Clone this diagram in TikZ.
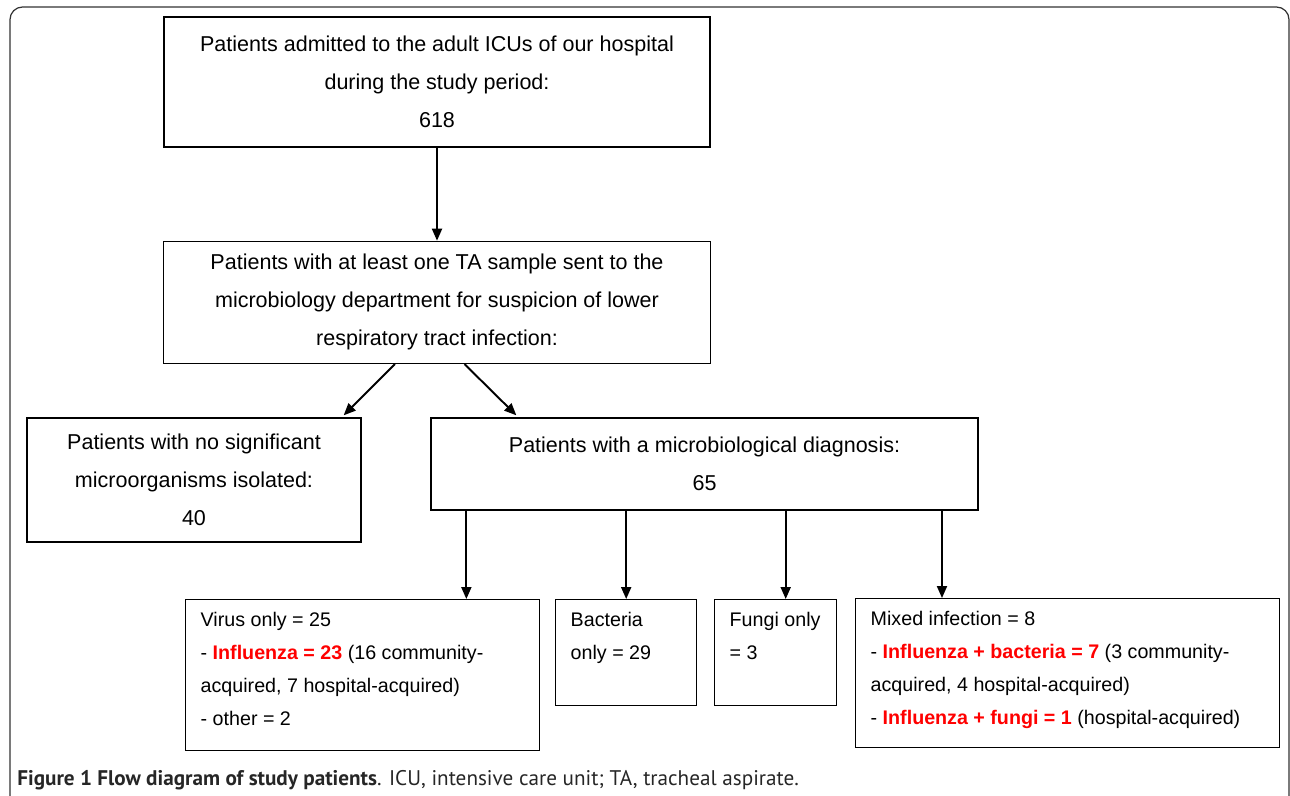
\documentclass[tikz,border=0pt]{standalone}
\usepackage{fontspec}
\usepackage{xcolor}
\setmainfont{Liberation Sans}
\newfontfamily\capfont{PT Sans}
\usetikzlibrary{arrows.meta,positioning}
\tikzset{every picture/.style={
  >={Triangle[length=0.24cm,width=0.2cm]}   % Solid triangle tips.
  }
}

\begin{document}
\begin{tikzpicture}[
    x=0.02cm, y=-0.02cm,
    box/.style={
      draw,
      line width=0.8pt,
      inner sep=0pt,
      font=\fontsize{12.25}{21.6}\selectfont
    },
    cbox/.style={box, align=center},
    lbox/.style={
      box,
      anchor=north west,
      inner ysep=2.1pt,
      font=\fontsize{11.2}{18.8}\selectfont
    },
    arr/.style={->, line width=1.1pt}]

    % Helper macros.
    \def\tb#1#2#3{\parbox[c][#2][t]{#1}{\raggedright\leftskip=0.3cm\strut#3}}
    \def\hl#1{{\color{red}\bfseries #1}}

    \useasboundingbox (0,0) rectangle (1290,795);

    % Draw the frame round the figure.
    \draw[black!80, line width=0.7pt, rounded corners=0.25cm]
      (10,800) -- (10,7) -- (1289,7) -- (1289,800);

    % Draw the upper boxes.
    \node[cbox, minimum width=10.92cm, minimum height=2.6cm] (admitted)
      at (437,82)
      {Patients admitted to the adult ICUs of our hospital\\
       during the study period:\\ 618};
    \node[cbox, minimum width=10.94cm, minimum height=2.44cm,
      below=1.86cm of admitted] (sent)
      {Patients with at least one TA sample sent to the\\
       microbiology department for suspicion of lower\\
       respiratory tract infection:};
    \node[cbox, minimum width=6.68cm, minimum height=2.48cm] (nosig)
      at (194,480)
      {Patients with no significant\\ microorganisms isolated:\\ 40};
    \node[cbox, minimum width=10.94cm, minimum height=1.84cm] (diag)
      at (704.5,464)
      {Patients with a microbiological diagnosis:\\ 65};

    % Draw the lower boxes.
    \node[lbox] (virus) at (185,599)
      {\tb{7.08cm}{81.7pt}{Virus only = 25\\
        - \hl{Influenza = 23} (16 community-\\
        acquired, 7 hospital-acquired)\\
        - other = 2}};
    \node[lbox] (bact) at (555,599)
      {\tb{2.82cm}{56.1pt}{Bacteria\\ only = 29}};
    \node[lbox] (fungi) at (714,599)
      {\tb{2.44cm}{56.1pt}{Fungi only\\ = 3}};
    \node[lbox] (mixed) at (855,598)
      {\tb{8.48cm}{80.6pt}{Mixed infection = 8\\
        - \hl{Influenza + bacteria = 7} (3 community-\\
        acquired, 4 hospital-acquired)\\
        - \hl{Influenza + fungi = 1} (hospital-acquired)}};

    % Draw the arrows.
    \draw[arr] (admitted) -- (sent);
    \draw[arr] ([xshift=-0.84cm]sent.south) --
      ([xshift=-0.36cm,yshift=0.04cm]nosig.north east);
    \draw[arr] ([xshift=0.55cm]sent.south) --
      ([xshift=1.72cm,yshift=0.04cm]diag.north west);
    \draw[arr] ([xshift=-1.48cm]virus.north east |- diag.south) --
      ([xshift=-1.48cm]virus.north east);
    \draw[arr] (diag.south -| bact.north) -- (bact.north);
    \draw[arr] ([xshift=0.2cm]fungi.north |- diag.south) --
      ([xshift=0.2cm]fungi.north);
    \draw[arr] ([xshift=1.74cm]mixed.north west |- diag.south) --
      ([xshift=1.74cm]mixed.north west);

    % Caption.
    \node[anchor=base west, inner sep=0pt, text=black!85,
      font=\capfont\fontsize{12.05}{14}\selectfont] (caption) at (17,785)
      {\textbf{Figure 1 Flow diagram of study patients}. ICU, intensive
       care unit; TA, tracheal aspirate.};

  \end{tikzpicture}
\end{document}
